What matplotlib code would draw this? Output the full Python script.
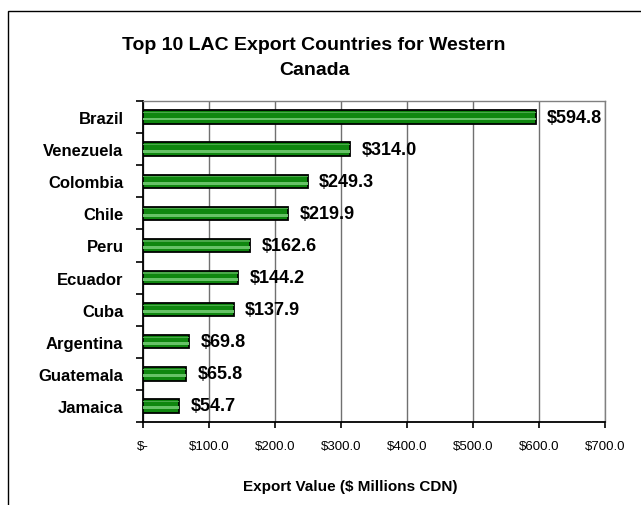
import matplotlib.pyplot as plt
from matplotlib.patches import Rectangle
import numpy as np

# данные
countries = ['Brazil', 'Venezuela', 'Colombia', 'Chile', 'Peru',
             'Ecuador', 'Cuba', 'Argentina', 'Guatemala', 'Jamaica']
values = [594.8, 314.0, 249.3, 219.9, 162.6, 144.2, 137.9, 69.8, 65.8, 54.7]
xticks = [0, 100, 200, 300, 400, 500, 600, 700]
xticklabels = ['$-', '$100.0', '$200.0', '$300.0', '$400.0', '$500.0', '$600.0', '$700.0']

plt.rcParams['font.family'] = ['Liberation Sans', 'DejaVu Sans']

fig = plt.figure(figsize=(6.41, 5.06), dpi=100)
ax = fig.add_axes([143 / 641, 1 - 423 / 506, 462 / 641, 321 / 506])

# рамка вокруг всей диаграммы
fig.patches.append(Rectangle((8 / 641, -0.1), 1.2, 1.1 - 12 / 506,
                             transform=fig.transFigure, fill=False,
                             edgecolor='black', linewidth=1.0))

y = np.arange(len(countries))
ax.barh(y, values, height=0.42, color='#0f870f', edgecolor='black',
        linewidth=1.3, zorder=3)
# светлая полоса на столбиках
ax.barh(y + 0.06, values, height=0.09, color='#67c267', linewidth=0, zorder=4)
ax.barh(y - 0.14, values, height=0.04, color='#4aa84a', linewidth=0, zorder=4)

for yi, v in zip(y, values):
    ax.text(v + 17, yi, '\\$' + f'{v:.1f}', va='center', ha='left',
            fontsize=13, fontweight='bold', zorder=5, clip_on=False)

ax.set_xlim(0, 700)
ax.set_ylim(len(countries) - 0.5, -0.5)

ax.set_xticks(xticks)
ax.set_xticklabels([t.replace('$', '\\$') for t in xticklabels], fontsize=9.5)
ax.set_yticks(y)
ax.set_yticklabels(countries, fontsize=12, fontweight='bold')
ax.tick_params(axis='y', length=0, pad=14)
ax.tick_params(axis='x', length=4, width=1.2, pad=9, direction='out')

# отметки между категориями
ax.set_yticks(np.arange(-0.5, len(countries) + 0.5, 1), minor=True)
ax.tick_params(axis='y', which='minor', length=5, width=1.2, direction='out')

ax.grid(axis='x', color='#707070', linewidth=1.0, zorder=0)
ax.set_axisbelow(True)

for s in ['left', 'bottom']:
    ax.spines[s].set_color('black')
    ax.spines[s].set_linewidth(1.3)
for s in ['top', 'right']:
    ax.spines[s].set_color('#808080')
    ax.spines[s].set_linewidth(1.0)

fig.text(314 / 641, 1 - 58 / 506, 'Top 10 LAC Export Countries for Western\nCanada',
         ha='center', va='center', fontsize=14, fontweight='bold', linespacing=1.6)
fig.text(350 / 641, 1 - 487 / 506, 'Export Value (\\$ Millions CDN)',
         ha='center', va='center', fontsize=11, fontweight='bold')

fig.savefig('out.png', dpi=100)
